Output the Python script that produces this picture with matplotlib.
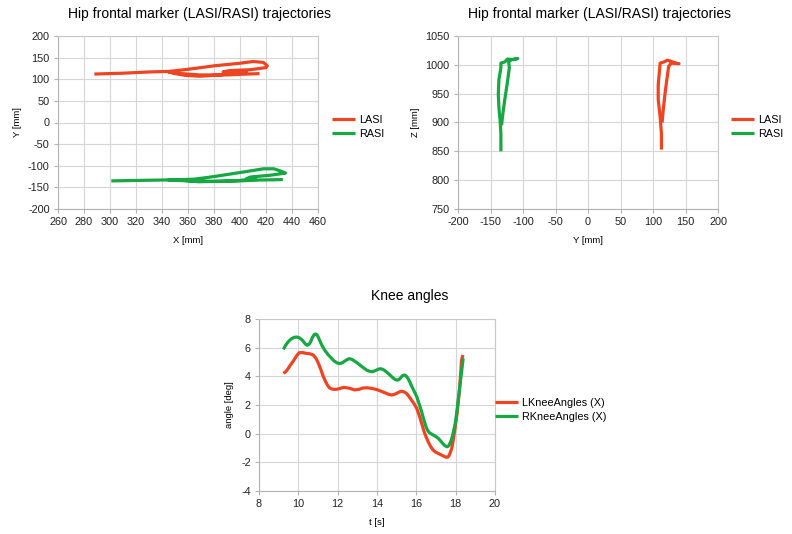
import numpy as np
import matplotlib
matplotlib.use("Agg")
from matplotlib import pyplot as plt

plt.rcParams['font.family'] = ['Liberation Sans', 'DejaVu Sans']
plt.rcParams['axes.unicode_minus'] = False

RED = '#ee4422'
GREEN = '#17a843'

# top-left: X/Y trajectories [mm]
lasi_x = [288, 310, 331, 345, 360, 380, 400, 410, 418, 421, 420, 408, 392, 387, 397, 405,
          395, 385, 375, 369, 358, 350, 345, 355, 369, 390, 405, 415]
lasi_y = [112, 114, 117, 118, 123, 131, 137, 141, 139, 131, 127, 122, 120, 117, 116, 116,
          114, 110, 108, 107, 109, 113, 117, 113, 110, 110, 112, 113]
rasi_x = [301, 320, 340, 355, 365, 380, 395, 410, 418, 426, 431, 435, 423, 408, 405, 412,
          400, 385, 368, 358, 345, 360, 380, 400, 415, 433]
rasi_y = [-135, -134, -133, -132, -131, -125, -118, -111, -107, -107, -112, -117, -122,
          -126, -130, -129, -134, -136, -137, -134, -133, -135, -136, -135, -133, -132]

# top-right: Y/Z trajectories [mm]
lasi_yy = [113, 113, 111, 108, 108, 110, 111, 117, 122, 128, 135, 140, 128, 124, 122, 119,
           116, 114]
lasi_z = [853, 880, 910, 940, 965, 990, 1003, 1005, 1008, 1006, 1003, 1002, 1003, 997, 980,
          955, 925, 900]
rasi_yy = [-134, -134, -135, -137, -138, -137, -134, -134, -128, -124, -115, -108, -118,
           -122, -121, -124, -128, -131, -133]
rasi_z = [850, 880, 900, 925, 950, 975, 995, 1003, 1005, 1010, 1009, 1011, 1009, 1005, 995,
          970, 940, 915, 895]

# bottom: knee angles
t_l = [9.24, 9.36, 9.49, 9.63, 9.78, 9.92, 10.05, 10.2, 10.42, 10.6, 10.76, 10.9, 11.02,
       11.15, 11.27, 11.38, 11.48, 11.58, 11.69, 11.83, 11.97, 12.15, 12.32, 12.47, 12.62,
       12.87, 13.1, 13.3, 13.5, 13.72, 13.95, 14.14, 14.32, 14.48, 14.62, 14.74, 14.87,
       14.99, 15.12, 15.24, 15.37, 15.5, 15.62, 15.75, 15.88, 16.02, 16.17, 16.27, 16.37,
       16.48, 16.6, 16.72, 16.85, 16.97, 17.1, 17.22, 17.35, 17.45, 17.54, 17.6, 17.65,
       17.72, 17.8, 17.87, 17.93, 18.0, 18.07, 18.13, 18.19, 18.25, 18.3, 18.37]
lknee = [4.21, 4.32, 4.56, 4.85, 5.14, 5.45, 5.65, 5.66, 5.6, 5.57, 5.49, 5.25, 4.91,
         4.45, 3.98, 3.65, 3.39, 3.2, 3.12, 3.09, 3.1, 3.17, 3.23, 3.2, 3.16, 3.05, 3.1,
         3.19, 3.2, 3.16, 3.09, 3.0, 2.9, 2.81, 2.73, 2.7, 2.73, 2.81, 2.9, 2.96, 2.92,
         2.81, 2.6, 2.35, 2.1, 1.77, 1.18, 0.72, 0.25, -0.17, -0.56, -0.88, -1.14, -1.28,
         -1.37, -1.45, -1.54, -1.61, -1.65, -1.63, -1.56, -1.35, -1.03, -0.5, 0.02, 0.7,
         1.42, 2.2, 3.05, 4.1, 5.14, 5.49]
t_r = [9.24, 9.36, 9.49, 9.63, 9.78, 9.92, 10.05, 10.2, 10.3, 10.38, 10.46, 10.55, 10.63,
       10.72, 10.81, 10.88, 10.96, 11.05, 11.15, 11.25, 11.36, 11.52, 11.69, 11.82, 11.95,
       12.05, 12.15, 12.26, 12.37, 12.48, 12.59, 12.69, 12.79, 12.96, 13.13, 13.3, 13.47,
       13.6, 13.72, 13.85, 13.98, 14.08, 14.18, 14.29, 14.4, 14.53, 14.66, 14.78, 14.91,
       15.0, 15.08, 15.17, 15.25, 15.32, 15.39, 15.46, 15.54, 15.65, 15.76, 15.89, 16.02,
       16.15, 16.27, 16.38, 16.49, 16.58, 16.66, 16.76, 16.86, 16.99, 17.12, 17.23, 17.34,
       17.44, 17.54, 17.6, 17.67, 17.75, 17.83, 17.9, 17.98, 18.06, 18.13, 18.2, 18.27,
       18.33, 18.38]
rknee = [5.88, 6.18, 6.42, 6.6, 6.72, 6.74, 6.69, 6.52, 6.36, 6.22, 6.17, 6.24, 6.42, 6.72,
         6.92, 6.95, 6.88, 6.62, 6.30, 6.03, 5.79, 5.5, 5.26, 5.07, 4.95, 4.9, 4.9, 4.97,
         5.07, 5.17, 5.23, 5.2, 5.13, 4.97, 4.79, 4.61, 4.44, 4.36, 4.32, 4.36, 4.44, 4.5,
         4.53, 4.49, 4.4, 4.25, 4.09, 3.93, 3.79, 3.74, 3.74, 3.85, 3.98, 4.06, 4.09, 4.05,
         3.93, 3.66, 3.32, 2.96, 2.58, 2.05, 1.53, 0.98, 0.49, 0.22, 0.07, -0.02, -0.09,
         -0.2, -0.33, -0.5, -0.68, -0.82, -0.91, -0.9, -0.8, -0.55, -0.21, 0.22, 0.72, 1.5,
         2.35, 3.15, 3.98, 4.65, 5.26]

W, H = 792, 534
fig = plt.figure(figsize=(W / 100, H / 100), dpi=100)


def box(l, t, r, b):
    return [l / W, 1 - b / H, (r - l) / W, (b - t) / H]


def style(ax):
    ax.grid(True, color='#d6d6d6', lw=0.8)
    ax.set_axisbelow(True)
    for s in ax.spines.values():
        s.set_color('#c8c8c8')
        s.set_linewidth(0.8)
    ax.spines['left'].set_color('#b3b3b3')
    ax.spines['bottom'].set_color('#b3b3b3')
    ax.tick_params(length=3, width=0.8, color='#b3b3b3', labelsize=7.8, pad=3,
                   labelcolor='#222222')


def legend(lines, labels, x, y):
    fig.legend(lines, labels, loc='center left', bbox_to_anchor=(x / W, 1 - y / H),
               frameon=False, fontsize=7.8, handlelength=2.1, handletextpad=0.4,
               borderpad=0, borderaxespad=0, labelspacing=0.4)


lw = 2.3
kw = dict(lw=lw, solid_joinstyle='round', solid_capstyle='butt')

# top-left
ax1 = fig.add_axes(box(58, 36, 318, 209))
l1, = ax1.plot(lasi_x, lasi_y, color=RED, **kw)
l2, = ax1.plot(rasi_x, rasi_y, color=GREEN, **kw)
ax1.set_xlim(260, 460)
ax1.set_ylim(-200, 200)
ax1.set_xticks(np.arange(260, 461, 20))
ax1.set_yticks(np.arange(-200, 201, 50))
style(ax1)
ax1.set_xlabel('X [mm]', fontsize=6.8, labelpad=6)
ax1.set_ylabel('Y [mm]', fontsize=6.8, labelpad=4)
fig.text(200 / W, 1 - 14 / H, 'Hip frontal marker (LASI/RASI) trajectories',
         ha='center', va='center', fontsize=10)
legend([l1, l2], ['LASI', 'RASI'], 332, 127)

# top-right
ax2 = fig.add_axes(box(458, 36, 718, 209))
l1, = ax2.plot(lasi_yy, lasi_z, color=RED, **kw)
l2, = ax2.plot(rasi_yy, rasi_z, color=GREEN, **kw)
ax2.set_xlim(-200, 200)
ax2.set_ylim(750, 1050)
ax2.set_xticks(np.arange(-200, 201, 50))
ax2.set_yticks(np.arange(750, 1051, 50))
style(ax2)
ax2.set_xlabel('Y [mm]', fontsize=6.8, labelpad=6)
ax2.set_ylabel('Z [mm]', fontsize=6.8, labelpad=4)
fig.text(600 / W, 1 - 14 / H, 'Hip frontal marker (LASI/RASI) trajectories',
         ha='center', va='center', fontsize=10)
legend([l1, l2], ['LASI', 'RASI'], 731, 127)

# bottom
ax3 = fig.add_axes(box(259, 319, 495, 491))
l1, = ax3.plot(t_l, lknee, color=RED, **kw)
l2, = ax3.plot(t_r, rknee, color=GREEN, **kw)
ax3.set_xlim(8, 20)
ax3.set_ylim(-4, 8)
ax3.set_xticks(np.arange(8, 21, 2))
ax3.set_yticks(np.arange(-4, 9, 2))
style(ax3)
ax3.set_xlabel('t [s]', fontsize=6.8, labelpad=6)
ax3.set_ylabel('angle [deg]', fontsize=6.8, labelpad=5)
fig.text(410 / W, 1 - 296 / H, 'Knee angles', ha='center', va='center', fontsize=10)
legend([l1, l2], ['LKneeAngles (X)', 'RKneeAngles (X)'], 495, 410)

fig.savefig('out.png', dpi=100)
